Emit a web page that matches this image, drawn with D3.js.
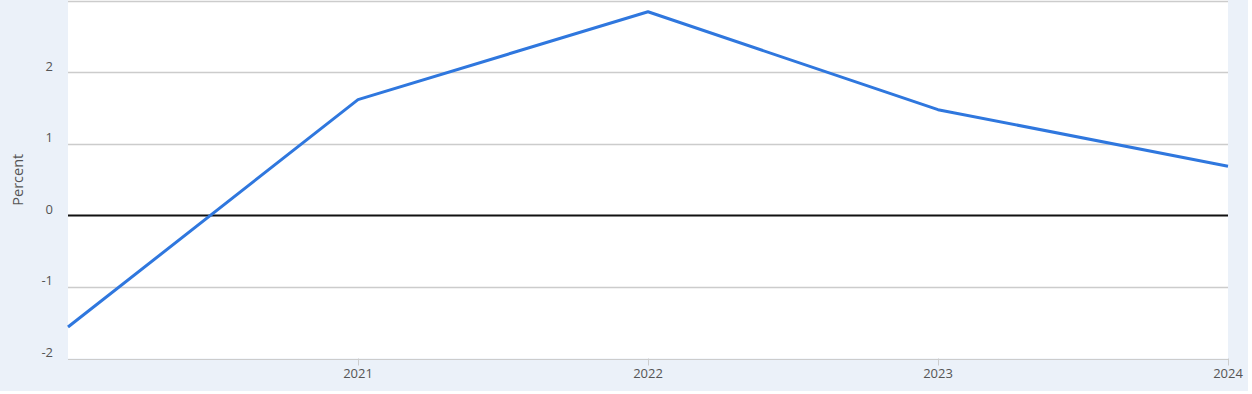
<!DOCTYPE html>
<html><head><meta charset="utf-8">
<script src="https://cdn.jsdelivr.net/npm/d3@7"></script>
<style>
html,body{margin:0;padding:0;background:#fff;}
svg{display:block;}
text{font-family:"Open Sans",sans-serif;}
</style></head>
<body>
<svg id="c" width="1252" height="394"></svg>
<script>
const years = [2020, 2021, 2022, 2023, 2024];
const values = [-1.56, 1.62, 2.85, 1.48, 0.69];
const yTicks = [-2, -1, 0, 1, 2, 3];
const xTicks = [2021, 2022, 2023, 2024];
const yLabel = "Percent";

const svg = d3.select("#c");
svg.append("rect").attr("x",0).attr("y",0).attr("width",1248).attr("height",391).attr("fill","#ebf1f9");

const mLeft = 68, mRight = 1228, mTop = 1, mBottom = 358.5;
const x = d3.scaleLinear().domain([2020, 2024]).range([mLeft, mRight]);
const y = d3.scaleLinear().domain([-2, 3]).range([mBottom, mTop]);

svg.append("rect").attr("x",mLeft).attr("y",0).attr("width",mRight-mLeft).attr("height",mBottom).attr("fill","#fff");

// grid lines
svg.append("g").selectAll("line").data(yTicks.filter(d=>d!==0)).join("line")
  .attr("x1",mLeft).attr("x2",mRight)
  .attr("y1",d=>Math.round(y(d))+0.5).attr("y2",d=>Math.round(y(d))+0.5)
  .attr("stroke","#cccccc").attr("stroke-width",d=>d===-2?1:1.5);

// y labels
svg.append("g").selectAll("text").data(yTicks).join("text")
  .attr("x",53).attr("y",d=>y(d)-2)
  .attr("text-anchor","end").attr("font-size",13).attr("fill","#555")
  .text(d=>d);

// x axis ticks
const xa = svg.append("g");
xa.selectAll("line").data(xTicks).join("line")
  .attr("x1",d=>Math.round(x(d))+0.5).attr("x2",d=>Math.round(x(d))+0.5)
  .attr("y1",mBottom).attr("y2",mBottom+7).attr("stroke","#cccccc").attr("stroke-width",1);
xa.selectAll("text").data(xTicks).join("text")
  .attr("x",d=>x(d)).attr("y",mBottom+19)
  .attr("text-anchor","middle").attr("font-size",13).attr("fill","#555")
  .text(d=>d);

// zero line
svg.append("line").attr("x1",mLeft).attr("x2",mRight)
  .attr("y1",y(0)).attr("y2",y(0)).attr("stroke","#111").attr("stroke-width",2);

// y title
svg.append("text").attr("transform",`translate(22.5,${(mTop+mBottom)/2}) rotate(-90)`)
  .attr("text-anchor","middle").attr("font-size",14.5).attr("fill","#555").text(yLabel);

// line
const line = d3.line().x((d,i)=>x(years[i])).y(d=>y(d));
svg.append("path").datum(values).attr("d",line)
  .attr("fill","none").attr("stroke","#2f77de").attr("stroke-width",3)
  .attr("stroke-linejoin","round");
</script>
</body></html>
